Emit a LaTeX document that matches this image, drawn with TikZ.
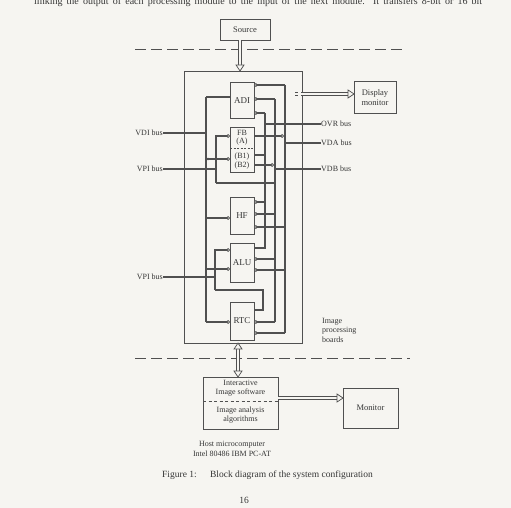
\documentclass[tikz,border=0pt]{standalone}
\usepackage{fontspec}
\setmainfont{Liberation Serif}
\usetikzlibrary{arrows.meta,calc}
\definecolor{bg}{HTML}{F6F5F1}
\definecolor{ink}{HTML}{505050}
\definecolor{txt}{HTML}{363636}
\tikzset{
  wire/.style={draw=ink, line width=1.1pt},
  inp/.style={wire, -{Circle[open,length=3.6pt,width=3.6pt,fill=bg,line width=0.8pt]}},
  module/.style={draw=ink, line width=0.9pt, fill=bg, minimum width=24pt, inner sep=0pt, text=txt, font=\fontsize{9}{10}\selectfont},
  box/.style={draw=ink, line width=0.9pt, fill=bg, inner sep=0pt, text=txt, font=\fontsize{8.5}{9.5}\selectfont, align=center},
  lbl/.style={inner sep=0pt, text=txt, font=\fontsize{8}{9.5}\selectfont},
  dbl/.style={draw=ink, double=bg, double distance=2.2pt, line width=0.7pt},
  dashline/.style={draw=ink, line width=1pt, dash pattern=on 11pt off 5pt},
  head/.style={draw=ink, line width=0.7pt, fill=bg, line join=miter}
}
\newcommand\arrR[3]{\draw[dbl] (#1,#3) -- (#2-5,#3);
  \draw[head] (#2-6,#3-4) -- (#2,#3) -- (#2-6,#3+4) -- cycle;}
\begin{document}
\begin{tikzpicture}[x=1pt,y=-1pt]
\useasboundingbox (0,0) rectangle (511,508);
\fill[bg] (0,0) rectangle (511,508);
\clip (0,0) rectangle (511,508);

% running text cut at the top
\node[anchor=base west, inner sep=0pt, text=txt, font=\fontsize{10}{12}\selectfont] (toptext) at (34,5)
  {\makebox[448pt][s]{linking the output of each processing module to the input of the next module. It transfers 8-bit or 16 bit}};

% dashed separators
\draw[dashline] (135,50) -- (405,50);
\draw[dashline] (135,358) -- (410,358);

% boxes
\node[box, minimum width=50pt, minimum height=21pt] (src) at (245,29.5) {Source};
\node[box, minimum width=118pt, minimum height=272pt] (board) at (243,207) {};
\node[box, minimum width=42pt, minimum height=32pt] (disp) at (375,97.5) {Display\\monitor};
\node[box, minimum width=75pt, minimum height=52pt] (host) at (240.5,403) {};
\node[box, minimum width=55pt, minimum height=40pt] (mon) at (370.5,408) {Monitor};

% source -> board
\draw[dbl] (240,40) -- (240,66);
\draw[head] (236,65) -- (240,71) -- (244,65) -- cycle;
% board <-> host
\draw[dbl] (238,348) -- (238,372);
\draw[head] (234,349) -- (238,343) -- (242,349) -- cycle;
\draw[head] (234,371) -- (238,377) -- (242,371) -- cycle;
% to display monitor
\draw[dbl] (295,94) -- (298,94);
\arrR{301}{354}{94}
% host -> monitor
\arrR{278}{343}{398}

% host text
\node[lbl, align=center] (hosttxt1) at (240.5,388) {Interactive\\Image software};
\draw[ink, line width=0.8pt, dash pattern=on 3pt off 2.5pt] (203,401) -- (278,401);
\node[lbl, align=center] (hosttxt2) at (240.5,415) {Image analysis\\algorithms};

% modules
\node[module, minimum height=36pt] (adi) at (242,100.5) {ADI};
\node[module, minimum height=45pt] (fb) at (242,149.5) {};
\node[lbl] (fbt) at (242,133) {FB};
\node[lbl] (fba) at (242,142) {(A)};
\draw[ink, line width=0.8pt, dash pattern=on 2pt off 1.5pt] (230,148) -- (254,148);
\node[lbl] (fbb1) at (242,156.5) {(B1)};
\node[lbl] (fbb2) at (242,165.5) {(B2)};
\node[module, minimum height=37pt] (hf) at (242,215.5) {HF};
\node[module, minimum height=39pt] (alu) at (242,262.5) {ALU};
\node[module, minimum height=38pt] (rtc) at (242,321) {RTC};

% left-side labels
\node[lbl, anchor=east] (vdi) at (163,133) {VDI bus};
\node[lbl, anchor=east] (vpi1) at (163,169) {VPI bus};
\node[lbl, anchor=east] (vpi2) at (163,277) {VPI bus};
% right-side labels
\node[lbl, anchor=west] (ovr) at (321,124) {OVR bus};
\node[lbl, anchor=west] (vda) at (321,143) {VDA bus};
\node[lbl, anchor=west] (vdb) at (321,169) {VDB bus};
\node[lbl, anchor=north west, align=left] (ipb) at (322,318) {Image\\processing\\boards};

% left wiring
\draw[wire] (206,97) -- (206,322);
\draw[wire] (206,97) -- (230,97);
\draw[inp] (206,322) -- (230,322);
\draw[inp] (206,159) -- (230,159);
\fill[ink] (208,159) circle (1.3pt);
\draw[inp] (206,218) -- (230,218);
\draw[inp] (206,269) -- (230,269);
\draw[wire] (vdi.east) -- (206,133);
\draw[wire] (vpi1.east) -- (216,169);
\draw[inp] (216,183) -- (216,136) -- (230,136);
\draw[wire] (216,183) -- (275,183);
\draw[wire] (vpi2.east) -- (215,277);
\draw[inp] (215,290) -- (215,250) -- (230,250);
\draw[wire] (215,290) -- (263,290) -- (263,310) -- (254,310);

% right wiring: VDA
\draw[wire] (285,85) -- (285,333);
\draw[inp] (285,85) -- (254,85);
\draw[inp] (285,227) -- (254,227);
\draw[inp] (285,270) -- (254,270);
\draw[inp] (285,333) -- (254,333);
\draw[inp] (254,136) -- (284,136);
\draw[wire] (285,143) -- (vda.west);
% VDB
\draw[wire] (275,99) -- (275,322);
\draw[inp] (275,99) -- (254,99);
\draw[inp] (275,214) -- (254,214);
\draw[inp] (275,259) -- (254,259);
\draw[inp] (275,322) -- (254,322);
\draw[inp] (254,165) -- (274,165);
\draw[wire] (275,169) -- (vdb.west);
% OVR
\draw[wire] (265,113) -- (265,248) -- (254,248);
\draw[wire] (254,155) -- (265,155);
\draw[inp] (265,113) -- (254,113);
\draw[inp] (265,202) -- (254,202);
\draw[wire] (265,124) -- (ovr.west);

% captions
\node[lbl, align=center] (hostcap) at (232,449) {Host microcomputer\\Intel 80486 IBM PC-AT};
\node[anchor=base west, inner sep=0pt, text=txt, font=\fontsize{9.5}{11}\selectfont] (cap) at (162,477)
  {Figure 1:\hspace{1.4em}Block diagram of the system configuration};
\node[anchor=base, inner sep=0pt, text=txt, font=\fontsize{9.5}{11}\selectfont] (pg) at (244,503) {16};
\end{tikzpicture}
\end{document}
